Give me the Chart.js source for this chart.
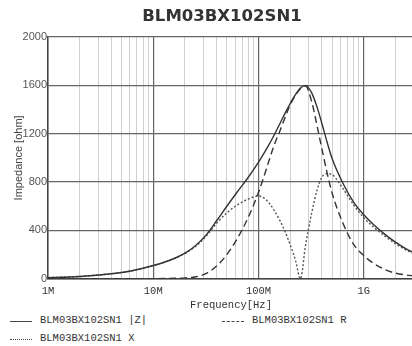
<!DOCTYPE html>
<html>
<head>
<meta charset="utf-8">
<script src="https://cdn.jsdelivr.net/npm/chart.js@4/dist/chart.umd.min.js"></script>
<style>
  body { margin: 0; background: #fff; overflow: hidden; }
  #title { position: absolute; left: 0; top: 6px; width: 444px; text-align: center;
    font: bold 16.5px "DejaVu Sans", sans-serif; line-height: 20px; color: #333; }
  #wrap { position: relative; width: 420px; height: 312px; }
  .leg { position: absolute; font: 10.5px "Liberation Mono", monospace; color: #333; white-space: nowrap; }
  .leg span.ln { position: absolute; top: 7px; width: 22px; border-top: 1px solid #444; }
  .leg span.tx { position: absolute; left: 30px; top: 0; }
</style>
</head>
<body>
<div id="wrap"><canvas id="chart"></canvas></div>
<div id="title">BLM03BX102SN1</div>
<div class="leg" style="left:10px;top:314px"><span class="ln"></span><span class="tx">BLM03BX102SN1 |Z|</span></div>
<div class="leg" style="left:222px;top:314px"><span class="ln" style="border-top-style:dashed"></span><span class="tx">BLM03BX102SN1 R</span></div>
<div class="leg" style="left:10px;top:332px"><span class="ln" style="border-top-style:dotted"></span><span class="tx">BLM03BX102SN1 X</span></div>
<script>
// frequency in MHz
const freqs = [1, 1.6, 2.5, 4, 6.3, 10, 12.5, 16, 20, 25, 32, 40, 50, 63, 80, 100, 112, 125, 140, 160,
  180, 200, 225, 250, 280, 320, 360, 400, 450, 500, 630, 800, 1000, 1250, 1600, 2000, 2500, 3000];
// impedance in ohm
const zValues = [10, 15, 25, 42, 67, 110, 135, 170, 212, 272, 365, 480, 600, 720, 840, 965, 1035, 1105, 1185, 1285,
  1375, 1450, 1525, 1578, 1600, 1538, 1420, 1285, 1125, 995, 795, 635, 530, 445, 365, 303, 250, 215];
const rValues = [0, 0, 0, 0, 0, 1, 2, 4, 8, 15, 45, 105, 200, 335, 510, 715, 840, 970, 1100, 1225,
  1340, 1440, 1520, 1572, 1594, 1465, 1265, 1075, 870, 710, 465, 285, 192, 125, 75, 47, 32, 24];
const xValues = [10, 15, 25, 42, 67, 110, 135, 170, 210, 265, 355, 460, 545, 612, 660, 685, 670, 630, 570, 480,
  385, 280, 150, 0, 280, 545, 735, 840, 870, 862, 750, 612, 505, 425, 350, 290, 240, 207];

const decadeTicks = [1e6, 1e7, 1e8, 1e9];
const decadeLabels = ["1M", "10M", "100M", "1G"];
const yTicks = [0, 400, 800, 1200, 1600, 2000];

const xTicks = [];
decadeTicks.forEach((d) => {
  for (let m = 1; m <= 9; m++) {
    if (d * m <= 3e9) xTicks.push(d * m);
  }
});

const isDecade = (v) => decadeTicks.includes(v);
const pts = (vals) => freqs.map((f, i) => ({ x: f * 1e6, y: vals[i] }));

const lineStyle = {
  borderColor: "#333",
  borderWidth: 1.4,
  pointRadius: 0,
  fill: false,
  cubicInterpolationMode: "monotone",
};

new Chart(document.getElementById("chart"), {
  type: "line",
  data: {
    datasets: [
      { ...lineStyle, label: "BLM03BX102SN1 |Z|", data: pts(zValues) },
      { ...lineStyle, label: "BLM03BX102SN1 R", data: pts(rValues), borderDash: [7, 4] },
      { ...lineStyle, label: "BLM03BX102SN1 X", data: pts(xValues), borderDash: [2, 2], borderColor: "#555" },
    ],
  },
  options: {
    responsive: true,
    maintainAspectRatio: false,
    animation: false,
    layout: { padding: { left: 0, right: 5, top: 37, bottom: 0 } },
    plugins: {
      legend: { display: false },
      tooltip: { enabled: false },
    },
    scales: {
      x: {
        type: "logarithmic",
        min: 1e6,
        max: 3e9,
        afterBuildTicks: (scale) => {
          scale.ticks = xTicks.map((v) => ({ value: v }));
        },
        ticks: {
          autoSkip: false,
          maxRotation: 0,
          minRotation: 0,
          padding: 6,
          color: "#333",
          font: { family: "Liberation Mono", size: 10.5 },
          callback: (v) => {
            const i = decadeTicks.indexOf(v);
            return i >= 0 ? decadeLabels[i] : "";
          },
        },
        grid: {
          drawTicks: false,
          color: (ctx) => (ctx.tick && isDecade(ctx.tick.value) ? "#666" : "#d0d0d0"),
          lineWidth: (ctx) => (ctx.tick && isDecade(ctx.tick.value) ? 1.2 : 1),
        },
        border: { color: "#444", width: 1.5 },
        title: {
          display: true,
          text: "Frequency[Hz]",
          color: "#333",
          font: { family: "Liberation Mono", size: 10.5 },
          padding: { top: -4, bottom: 0 },
        },
      },
      y: {
        min: 0,
        max: 2000,
        afterBuildTicks: (scale) => {
          scale.ticks = yTicks.map((v) => ({ value: v }));
        },
        afterFit: (scale) => {
          scale.width = 48;
        },
        ticks: {
          padding: 1,
          color: "#555",
          font: { family: "'Liberation Sans Narrow', 'Liberation Sans'", size: 11 },
          callback: (v) => String(v),
        },
        grid: { drawTicks: false, color: "#666", lineWidth: 1.2 },
        border: { color: "#444", width: 1.5 },
        title: {
          display: true,
          text: "Impedance [ohm]",
          color: "#444",
          font: { family: "'Liberation Sans Narrow', 'Liberation Sans'", size: 11 },
          padding: { top: 12, bottom: 0 },
        },
      },
    },
  },
});
</script>
</body>
</html>
